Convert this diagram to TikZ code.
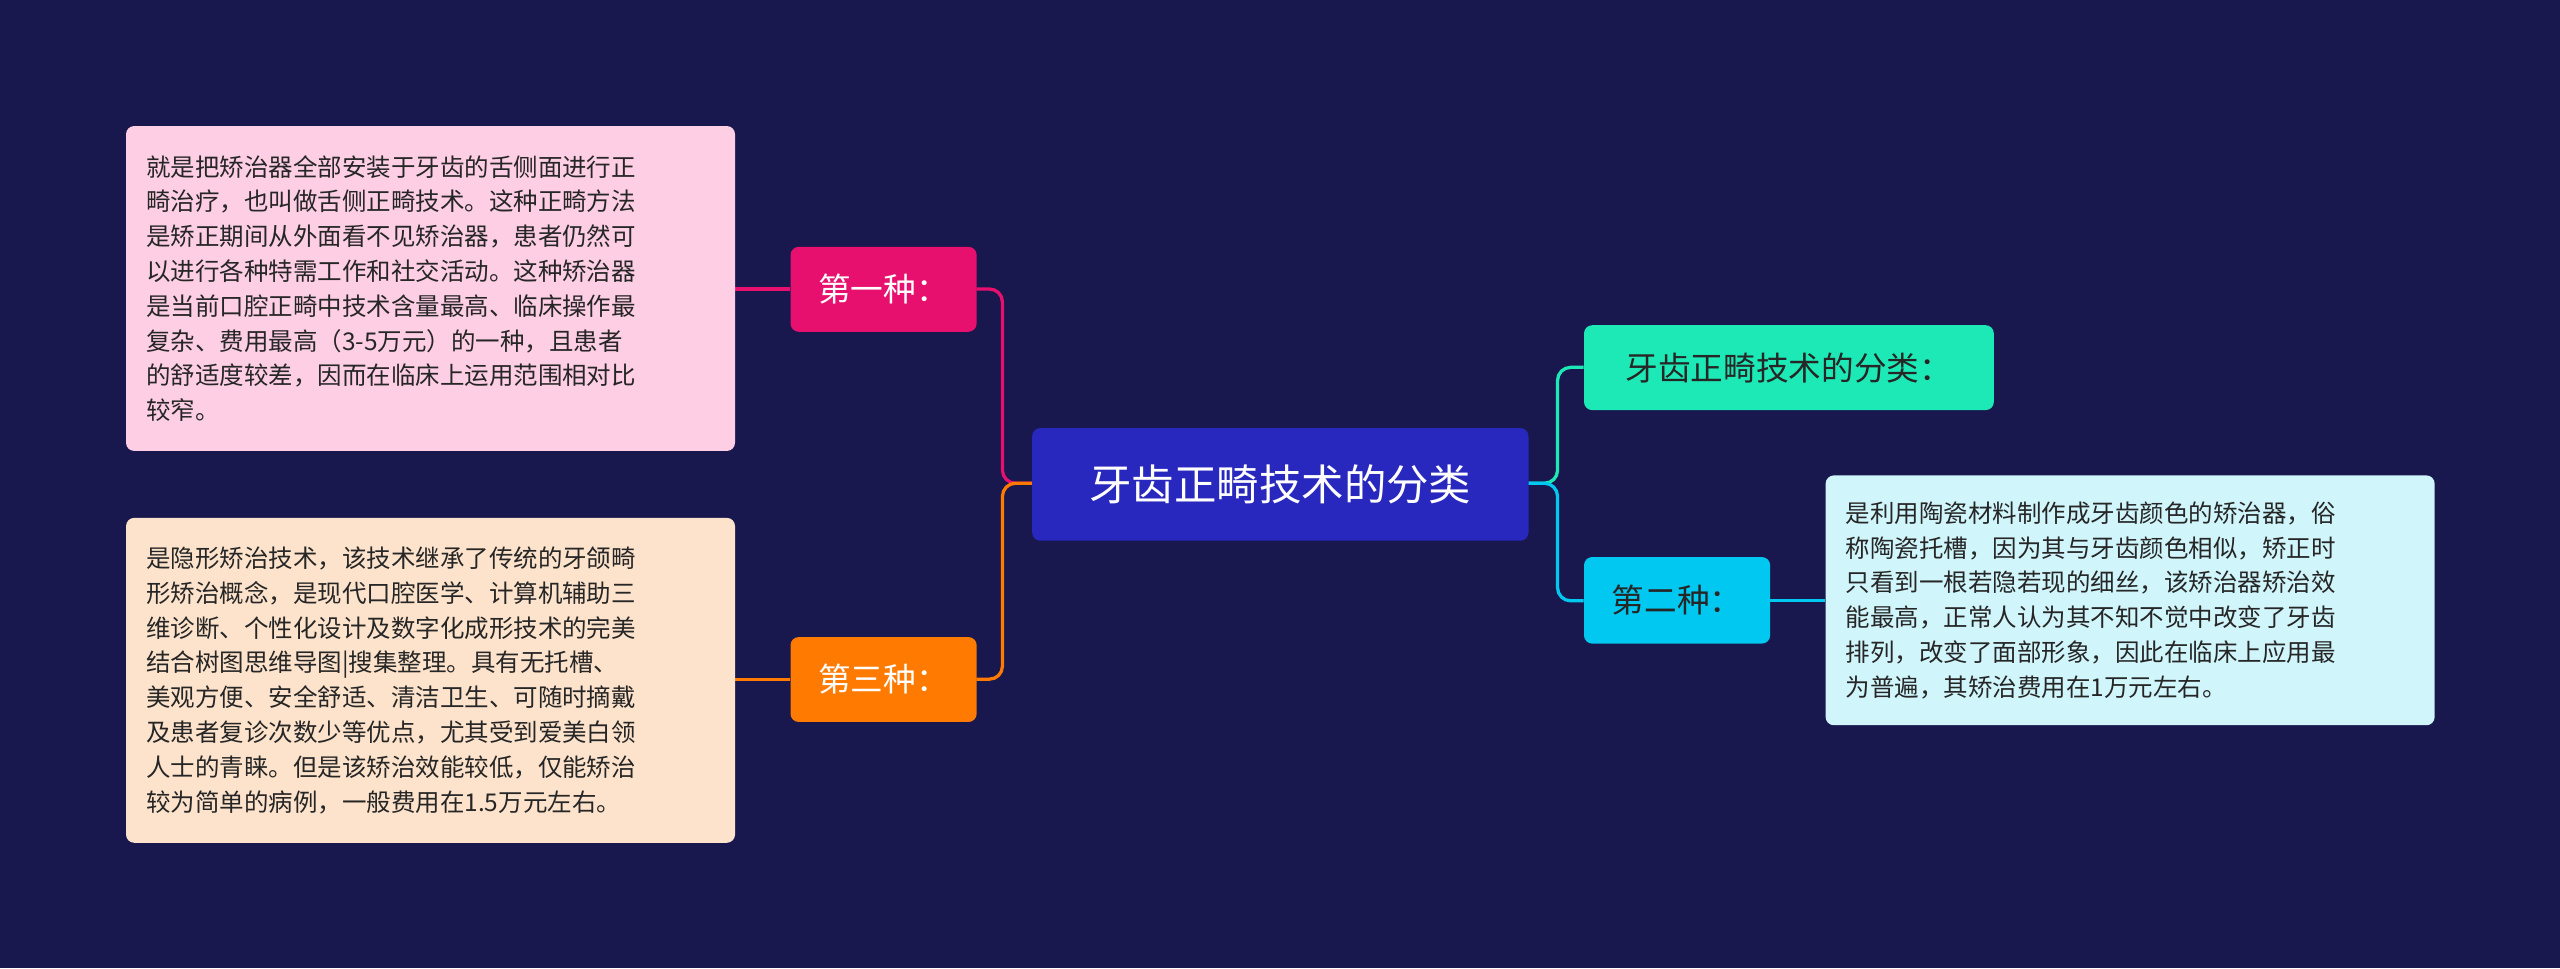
\documentclass[tikz,border=0pt]{standalone}
\usepackage{fontspec}
\setmainfont{Noto Sans CJK SC}
\definecolor{bg}{RGB}{24,24,78}
\definecolor{cen}{RGB}{40,40,190}
\definecolor{pk}{RGB}{232,16,110}
\definecolor{org}{RGB}{255,122,0}
\definecolor{tl}{RGB}{29,233,182}
\definecolor{cy}{RGB}{0,200,240}
\definecolor{pkl}{RGB}{253,206,228}
\definecolor{orl}{RGB}{253,227,204}
\definecolor{cyl}{RGB}{208,245,251}
\tikzset{x=1pt,y=-1pt,
 box/.style={rounded corners=5pt,inner sep=0pt,anchor=north west},
 txt/.style={align=left,font=\fontsize{15}{21.3}\selectfont,text=black!85,anchor=west},
 lk/.style={line width=2pt,rounded corners=8pt}}
\begin{document}
\begin{tikzpicture}
\fill[bg] (0,0) rectangle (1568,593);
\useasboundingbox (0,0) rectangle (1568,593);
% connectors
\draw[lk,pk] (632,296) -- (614,296) -- (614,177) -- (598,177);
\draw[lk,org] (632,296) -- (614,296) -- (614,416) -- (598,416);
\draw[lk,pk] (484,177) -- (450,177);
\draw[lk,org] (484,416) -- (450,416);
\draw[lk,tl] (936,296) -- (954,296) -- (954,225) -- (970,225);
\draw[lk,cy] (936,296) -- (954,296) -- (954,368) -- (970,368);
\draw[lk,cy] (1084,368) -- (1118,368);
% nodes
\node[box,fill=cen,minimum width=304pt,minimum height=69pt] (c) at (632,262) {};
\node[text=white,font=\fontsize{26}{30}\selectfont] at (c.center) {牙齿正畸技术的分类};
\node[box,fill=pk,minimum width=114pt,minimum height=52pt] (a1) at (484,151) {};
\node[text=white,font=\fontsize{20}{24}\selectfont] at (a1.center) {第一种：};
\node[box,fill=org,minimum width=114pt,minimum height=52pt] (a3) at (484,390) {};
\node[text=white,font=\fontsize{20}{24}\selectfont] at (a3.center) {第三种：};
\node[box,fill=tl,minimum width=251pt,minimum height=52pt] (r1) at (970,199) {};
\node[text=black!85,font=\fontsize{20}{24}\selectfont] at (r1.center) {牙齿正畸技术的分类：};
\node[box,fill=cy,minimum width=114pt,minimum height=53pt] (a2) at (970,341) {};
\node[text=black!85,font=\fontsize{20}{24}\selectfont] at (a2.center) {第二种：};
\node[box,fill=pkl,minimum width=373pt,minimum height=199pt] (b1) at (77,77) {};
\node[txt] at ([xshift=9pt]b1.west) {就是把矫治器全部安装于牙齿的舌侧面进行正\\畸治疗，也叫做舌侧正畸技术。这种正畸方法\\是矫正期间从外面看不见矫治器，患者仍然可\\以进行各种特需工作和社交活动。这种矫治器\\是当前口腔正畸中技术含量最高、临床操作最\\复杂、费用最高（3-5万元）的一种，且患者\\的舒适度较差，因而在临床上运用范围相对比\\较窄。};
\node[box,fill=orl,minimum width=373pt,minimum height=199pt] (b3) at (77,317) {};
\node[txt] at ([xshift=9pt]b3.west) {是隐形矫治技术，该技术继承了传统的牙颌畸\\形矫治概念，是现代口腔医学、计算机辅助三\\维诊断、个性化设计及数字化成形技术的完美\\结合树图思维导图|搜集整理。具有无托槽、\\美观方便、安全舒适、清洁卫生、可随时摘戴\\及患者复诊次数少等优点，尤其受到爱美白领\\人士的青睐。但是该矫治效能较低，仅能矫治\\较为简单的病例，一般费用在1.5万元左右。};
\node[box,fill=cyl,minimum width=373pt,minimum height=153pt] (b2) at (1118,291) {};
\node[txt] at ([xshift=9pt]b2.west) {是利用陶瓷材料制作成牙齿颜色的矫治器，俗\\称陶瓷托槽，因为其与牙齿颜色相似，矫正时\\只看到一根若隐若现的细丝，该矫治器矫治效\\能最高，正常人认为其不知不觉中改变了牙齿\\排列，改变了面部形象，因此在临床上应用最\\为普遍，其矫治费用在1万元左右。};
\end{tikzpicture}
\end{document}
